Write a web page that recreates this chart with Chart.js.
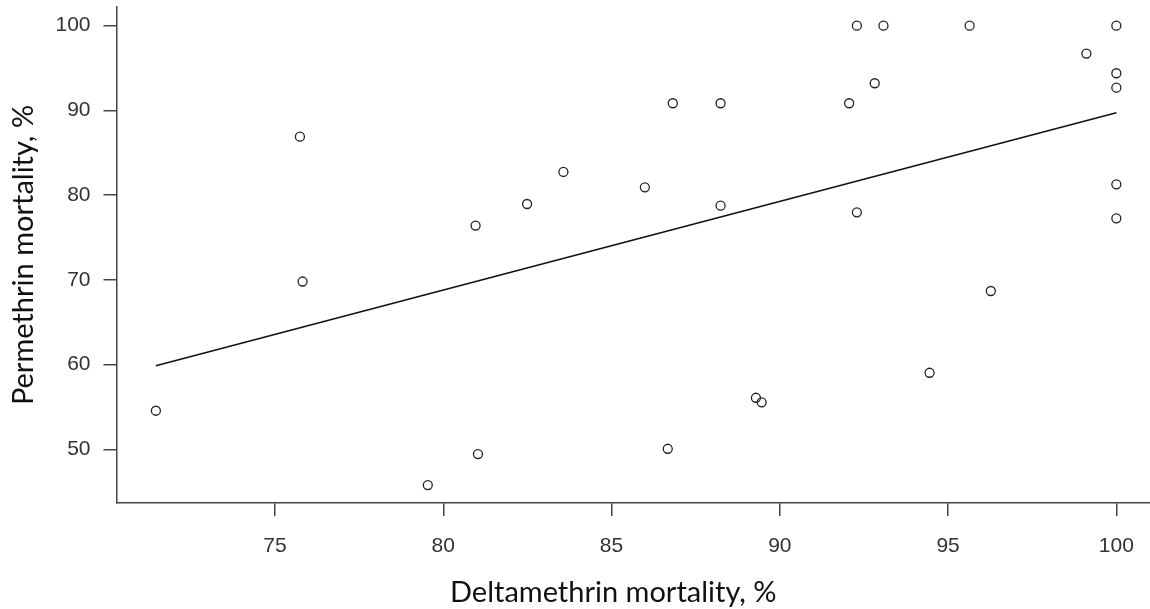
<!DOCTYPE html>
<html>
<head>
<meta charset="utf-8">
<script src="https://cdn.jsdelivr.net/npm/chart.js@4"></script>
<style>
  html, body { margin: 0; padding: 0; background: #fff; }
  #wrap { width: 1150px; height: 609px; }
</style>
</head>
<body>
<div id="wrap"><canvas id="myChart" width="1150" height="609"></canvas></div>
<script>
// Deltamethrin (x) vs permethrin (y) mortality, %
const deltamethrin = [75.74, 75.82, 80.96, 82.49, 83.57, 85.99, 86.82, 88.24, 88.24,
  92.29, 93.08, 95.64, 100, 99.11, 100, 100, 92.82, 92.06, 100, 92.29, 100, 96.27,
  71.46, 79.54, 81.03, 86.67, 89.29, 89.46, 94.45];
const permethrin = [86.9, 69.8, 76.4, 78.95, 82.73, 80.92, 90.84, 90.84, 78.75,
  100, 100, 100, 100, 96.7, 94.38, 92.68, 93.2, 90.84, 81.27, 77.97, 77.26, 68.68,
  54.55, 45.77, 49.43, 50.06, 56.08, 55.54, 59.03];

// fitted line ends
const fitX = [71.46, 100];
const fitY = [59.86, 89.73];

const xTicks = [75, 80, 85, 90, 95, 100];
const yTicks = [50, 60, 70, 80, 90, 100];
const xTitle = 'Deltamethrin mortality, %';
const yTitle = 'Permethrin mortality, %';

const points = deltamethrin.map((x, i) => ({x: x, y: permethrin[i]}));
const fit = fitX.map((x, i) => ({x: x, y: fitY[i]}));

const axisColor = '#444';
const tickFont = {family: 'Liberation Sans, Arial, sans-serif', size: 21};
const titleFont = {family: 'Lato, sans-serif', size: 29};

// x title sits a bit left of the plot centre in the original
const xTitlePlugin = {
  id: 'xTitle',
  afterDraw(chart) {
    const a = chart.chartArea;
    const c = chart.ctx;
    c.save();
    c.font = titleFont.size + 'px ' + titleFont.family;
    c.fillStyle = '#111';
    c.textAlign = 'center';
    c.textBaseline = 'alphabetic';
    c.fillText(xTitle, (a.left + a.right) / 2 - 20, 602);
    c.restore();
  }
};

const noPad = s => { s.paddingTop = 0; s.paddingRight = 0; };

const ctx = document.getElementById('myChart');

new Chart(ctx, {
  type: 'scatter',
  data: {
    datasets: [{
      data: points,
      pointStyle: 'circle',
      pointRadius: 4.5,
      borderWidth: 1.3,
      borderColor: '#222',
      backgroundColor: 'rgba(0,0,0,0)'
    }, {
      type: 'line',
      data: fit,
      borderColor: '#111',
      borderWidth: 1.6,
      pointRadius: 0,
      fill: false
    }]
  },
  plugins: [xTitlePlugin],
  options: {
    responsive: false,
    animation: false,
    devicePixelRatio: 1,
    layout: {autoPadding: false, padding: {top: 7, right: 0, left: 0, bottom: 0}},
    plugins: {legend: {display: false}, tooltip: {enabled: false}},
    scales: {
      x: {
        type: 'linear',
        min: 70.29,
        max: 101,
        afterBuildTicks: s => { s.ticks = xTicks.map(v => ({value: v})); },
        afterFit: s => { s.height = 106; noPad(s); },
        border: {display: true, color: axisColor, width: 1.5},
        grid: {drawOnChartArea: false, drawTicks: true, tickLength: 13, color: axisColor, lineWidth: 1.5},
        ticks: {color: '#333', font: tickFont, padding: 18},
        title: {display: false, text: xTitle}
      },
      y: {
        type: 'linear',
        min: 43.66,
        max: 102.2,
        afterBuildTicks: s => { s.ticks = yTicks.map(v => ({value: v})); },
        afterFit: s => { s.width = 116.5; noPad(s); },
        border: {display: true, color: axisColor, width: 1.5},
        grid: {drawOnChartArea: false, drawTicks: true, tickLength: 13, color: axisColor, lineWidth: 1.5},
        ticks: {color: '#333', font: tickFont, padding: 13},
        title: {display: true, text: yTitle, color: '#111', font: titleFont,
                padding: {top: 6.5, bottom: 0}}
      }
    }
  }
});
</script>
</body>
</html>
